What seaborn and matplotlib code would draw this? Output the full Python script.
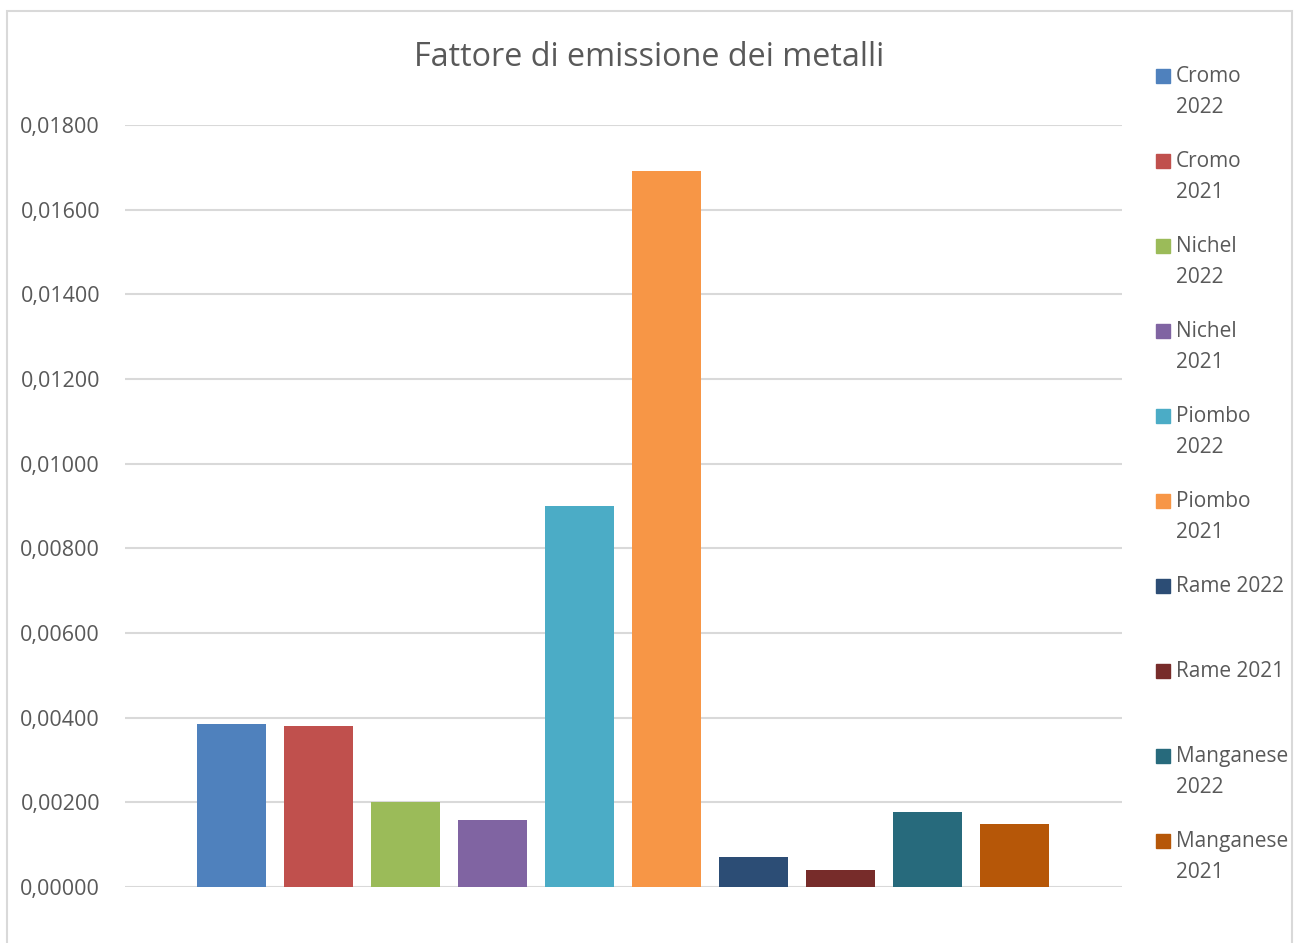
import matplotlib
matplotlib.use('Agg')
import matplotlib.pyplot as plt
import seaborn as sns
from matplotlib.patches import Rectangle
from matplotlib.ticker import FuncFormatter

# dati
series = ['Cromo 2022', 'Cromo 2021', 'Nichel 2022', 'Nichel 2021',
          'Piombo 2022', 'Piombo 2021', 'Rame 2022', 'Rame 2021',
          'Manganese 2022', 'Manganese 2021']
values = [0.00385, 0.00380, 0.00201, 0.00159, 0.00899,
          0.01691, 0.00072, 0.00041, 0.00178, 0.00149]
colors = ['#4f81bd', '#c0504d', '#9bbb59', '#8064a2', '#4bacc6',
          '#f79646', '#2c4d75', '#772c2a', '#276a7c', '#b65708']
yticks = [0.0, 0.002, 0.004, 0.006, 0.008, 0.010, 0.012, 0.014, 0.016, 0.018]

sns.set_style('white')
plt.rcParams['font.family'] = ['Open Sans', 'DejaVu Sans']

W, H = 1302, 943
fig = plt.figure(figsize=(W / 100, H / 100), dpi=100)
ax = fig.add_axes([125 / W, (H - 887) / H, (1122 - 125) / W, (887 - 125) / H])

sns.barplot(x=series, y=values, hue=series, palette=dict(zip(series, colors)),
            width=0.79, legend=False, ax=ax, saturation=1, linewidth=0)

ax.set_xlim(-1.2255, 10.24)
ax.set_ylim(0, 0.018)
ax.set_yticks(yticks)
ax.yaxis.set_major_formatter(FuncFormatter(lambda v, p: f'{v:.5f}'.replace('.', ',')))
ax.set_xticks([])
ax.set_xlabel('')
ax.set_ylabel('')
ax.grid(axis='y', color='#d9d9d9', linewidth=1.5)
ax.set_axisbelow(True)
for s in ax.spines.values():
    s.set_visible(False)
ax.tick_params(axis='y', length=0, pad=18, labelsize=15.5, labelcolor='#595959')

# bordo del grafico
fig.patches.append(Rectangle((7 / W, -0.05), (1292 - 7) / W, 1.05 - 11 / H,
                             transform=fig.transFigure, fill=False,
                             edgecolor='#d9d9d9', linewidth=1.5))

fig.text(649.5 / W, 1 - 57 / H, 'Fattore di emissione dei metalli',
         ha='center', va='center', fontsize=23.3, color='#595959')

# legenda
for i, (lab, col) in enumerate(zip(series, colors)):
    top = 69 + i * 85
    fig.patches.append(Rectangle((1156 / W, 1 - (top + 14) / H), 14 / W, 14 / H,
                                 transform=fig.transFigure, color=col))
    txt = lab.replace(' ', '\n') if len(lab) > 9 else lab
    fig.text(1176 / W, 1 - (top - 3) / H, txt, ha='left', va='top',
             fontsize=15, color='#595959', linespacing=1.6)

fig.savefig('out.png', dpi=100)
